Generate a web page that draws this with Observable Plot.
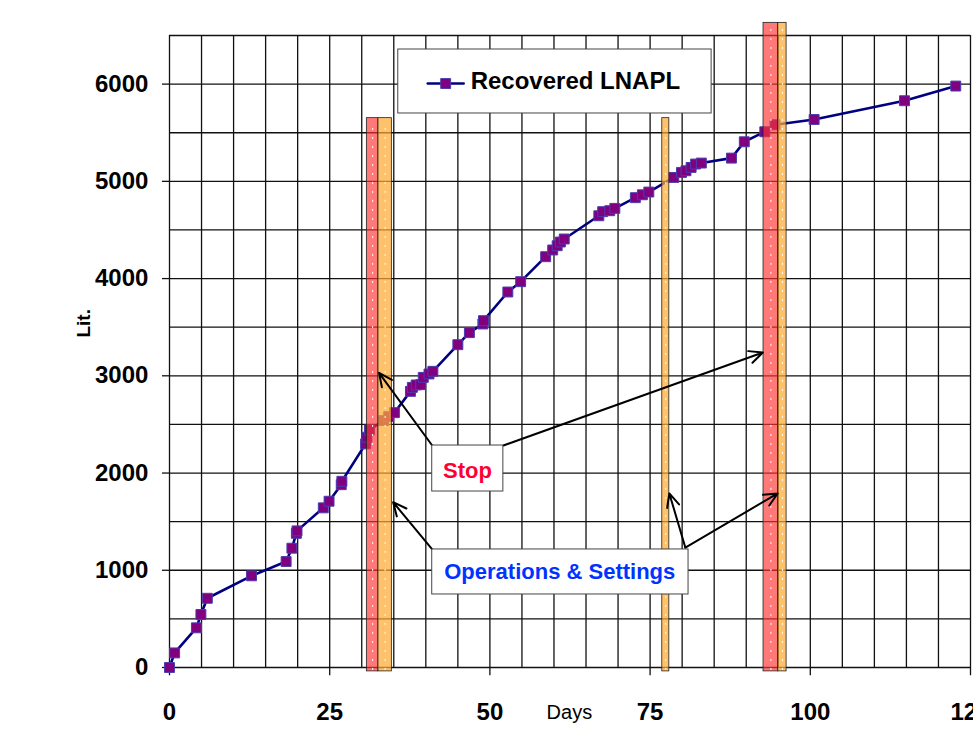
<!DOCTYPE html>
<html>
<head>
<meta charset="utf-8">
<script src="https://cdn.jsdelivr.net/npm/d3@7"></script>
<script src="https://cdn.jsdelivr.net/npm/@observablehq/plot@0.6"></script>
<style>
  html, body { margin: 0; padding: 0; background: #fff; overflow: hidden; }
</style>
</head>
<body>
<div id="chart"></div>
<script>
// ---- data ----
const days = [0, 0.8, 4.2, 4.9, 5.9, 12.8, 18.2, 19.1, 19.8, 19.9, 24.0, 24.9, 26.8, 26.9, 30.6,
  30.8, 31.2, 33.4, 34.2, 35.1, 37.6, 37.9, 38.5, 39.2, 39.6, 40.5, 41.1, 45.0, 46.8, 48.9,
  49.0, 52.8, 54.8, 58.7, 59.8, 60.5, 61.0, 61.6, 67.0, 67.6, 68.7, 69.5, 72.7, 73.8, 74.8,
  78.7, 79.9, 80.6, 81.4, 82.1, 83.0, 87.7, 89.7, 92.9, 94.5, 100.6, 114.7, 122.7];
const liters = [0, 150, 408, 545, 712, 943, 1090, 1227, 1380, 1405, 1642, 1710, 1880, 1915, 2300,
  2368, 2443, 2540, 2580, 2621, 2840, 2881, 2906, 2909, 2984, 3019, 3046, 3320, 3444, 3533,
  3567, 3862, 3968, 4225, 4294, 4338, 4376, 4407, 4646, 4688, 4698, 4722, 4832, 4862, 4890,
  5040, 5092, 5109, 5143, 5178, 5188, 5239, 5407, 5510, 5582, 5636, 5829, 5980];

// event bands (days) : Stop = red, Operations & Settings = orange
const bandStart = [30.8, 32.6, 76.9, 92.7, 95.0];
const bandEnd   = [32.6, 34.7, 78.0, 95.0, 96.3];
const bandTop   = [5650, 5650, 5650, 6630, 6630];
const bandKind  = ["stop", "ops", "ops", "stop", "ops"];

// axis ticks
const xTicks = [0, 25, 50, 75, 100, 125];
const yTicks = [0, 1000, 2000, 3000, 4000, 5000, 6000];
const xGrid = d3.range(0, 126, 5);
const yGrid = d3.range(0, 6501, 500);

// annotations (data units)
const seriesName = "Recovered LNAPL";
const stopLabel = "Stop";
const opsLabel = "Operations & Settings";
const xTitle = "Days";
const yTitle = "Lit.";
const stopBox = {x1: 41.0, x2: 52.1, y1: 1810, y2: 2283, cx: 46.5, cy: 2026};
const opsBox  = {x1: 41.0, x2: 81.0, y1: 751, y2: 1214, cx: 60.9, cy: 985};
const legendBox = {x1: 35.7, x2: 84.6, y1: 5698, y2: 6356};
const arrows = [
  {x1: 41.0, y1: 2283, x2: 32.7, y2: 3030},
  {x1: 52.1, y1: 2283, x2: 92.6, y2: 3240},
  {x1: 41.0, y1: 1214, x2: 34.9, y2: 1700},
  {x1: 80.5, y1: 1234, x2: 78.0, y2: 1790},
  {x1: 80.5, y1: 1234, x2: 94.9, y2: 1790}
];

// ---- build ----
const points = days.map((d, i) => ({day: d, lit: liters[i]}));
const bands = bandStart.map((s, i) => ({x1: s, x2: bandEnd[i], top: bandTop[i], kind: bandKind[i]}));
const bandFill = k => k === "stop" ? "#ff3333" : "#ffaa33";
const bandOpacity = k => k === "stop" ? 0.66 : 0.72;

const plot = Plot.plot({
  width: 973,
  height: 737,
  marginLeft: 169,
  marginRight: 3,
  marginTop: 35,
  marginBottom: 70,
  style: {fontFamily: "'Liberation Sans', Arial, sans-serif", background: "white", overflow: "hidden"},
  x: {domain: [0, 125], axis: null},
  y: {domain: [0, 6500], axis: null},
  marks: [
    // grid
    Plot.ruleX(xGrid, {x: d => d, y1: 0, y2: 6500, stroke: "#111", strokeWidth: 1.3}),
    Plot.ruleY(yGrid, {y: d => d, x1: 0, x2: 125, stroke: "#111", strokeWidth: 1.3}),
    // tick marks
    Plot.ruleX(xTicks, {x: d => d, y1: 0, y2: -85, stroke: "#111", strokeWidth: 1.3}),
    Plot.ruleY(yTicks, {y: d => d, x1: -1.1, x2: 0, stroke: "#111", strokeWidth: 1.3}),
    // tick labels
    Plot.text(xTicks, {x: d => d, y: -463, text: d => String(d), fill: "black", fontSize: 24, fontWeight: "bold", ariaLabel: "stretch"}),
    Plot.text(yTicks, {x: -3.3, y: d => d, text: d => String(d), textAnchor: "end", fill: "black", fontSize: 24, fontWeight: "bold", ariaLabel: "stretch"}),
    // series
    Plot.line(points, {x: "day", y: "lit", stroke: "#000080", strokeWidth: 2.6}),
    Plot.dot(points, {x: "day", y: "lit", symbol: "square", r: 5.6, fill: "#800080", stroke: "#4a3cb0", strokeWidth: 1}),
    // bands (drawn over, semi-transparent)
    Plot.rect(bands, {x1: "x1", x2: "x2", y1: -40, y2: "top", fill: d => bandFill(d.kind), fillOpacity: d => bandOpacity(d.kind), stroke: "#222", strokeWidth: 0.8}),
    Plot.ruleX(bands, {x: d => (d.x1 + d.x2) / 2, y1: -30, y2: d => d.top - 60, stroke: "white", strokeWidth: 1, strokeDasharray: "2,7"}),
    // arrows
    Plot.arrow(arrows, {x1: "x1", y1: "y1", x2: "x2", y2: "y2", stroke: "black", strokeWidth: 2, headLength: 11, headAngle: 50}),
    // annotation boxes
    Plot.rect([stopBox, opsBox], {x1: "x1", x2: "x2", y1: "y1", y2: "y2", fill: "white", stroke: "#444", strokeWidth: 1}),
    Plot.text([stopBox], {x: "cx", y: "cy", text: () => stopLabel, fill: "#ff0033", fontSize: 22, fontWeight: "bold", ariaLabel: "stretch"}),
    Plot.text([opsBox], {x: "cx", y: "cy", text: () => opsLabel, fill: "#0033ff", fontSize: 22, fontWeight: "bold", ariaLabel: "stretch"}),
    // legend
    Plot.rect([legendBox], {x1: "x1", x2: "x2", y1: "y1", y2: "y2", fill: "white", stroke: "#444", strokeWidth: 1}),
    Plot.line([[40.3, 6006], [45.9, 6006]], {stroke: "#000080", strokeWidth: 2.6}),
    Plot.dot([[43.1, 6006]], {symbol: "square", r: 5.6, fill: "#800080", stroke: "#4a3cb0", strokeWidth: 1}),
    Plot.text([seriesName], {x: 47.0, y: 6027, text: d => d, textAnchor: "start", fill: "black", fontSize: 24, fontWeight: "bold", ariaLabel: "stretch"}),
    // axis titles
    Plot.text([yTitle], {x: -13.3, y: 3540, text: d => d, rotate: -90, fill: "black", fontSize: 19, fontWeight: "bold"}),
    Plot.text([xTitle], {x: 62.4, y: -463, text: d => d, fill: "black", fontSize: 20})
  ]
});

document.getElementById("chart").appendChild(plot);

// vertically stretch bold labels to match the reference's tall lettering
function stretchTexts(root, selector, s) {
  root.querySelectorAll(selector).forEach(t => {
    const tr = t.getAttribute("transform");
    if (tr && tr.indexOf("translate(") === 0 && tr.indexOf("undefined") < 0) {
      t.setAttribute("transform", tr + ` scale(1,${s})`);
    }
  });
}
stretchTexts(plot, '[aria-label="stretch"] text', 1.2);
</script>
</body>
</html>
